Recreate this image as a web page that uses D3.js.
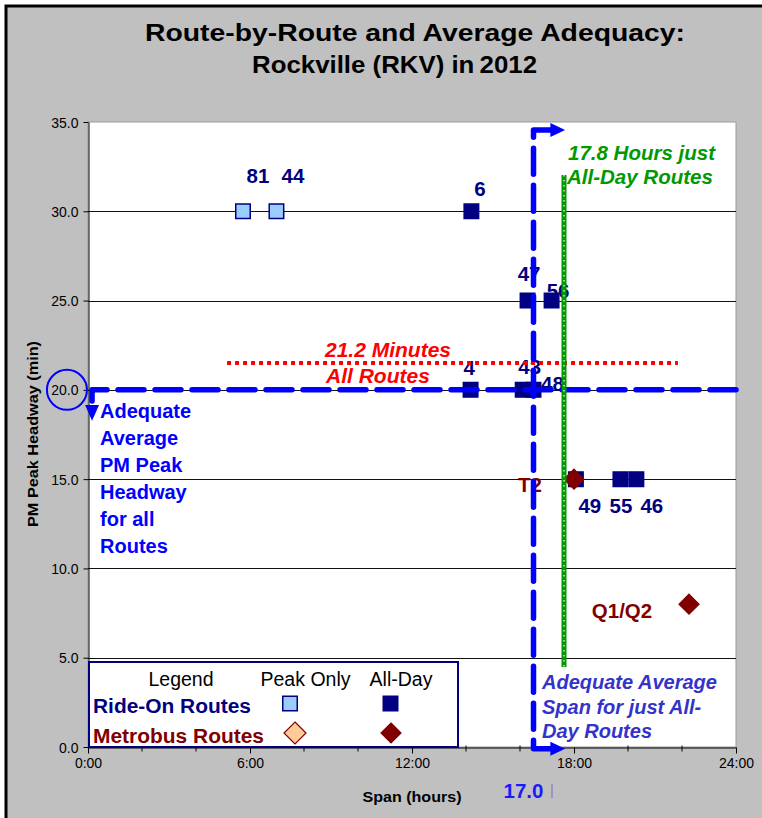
<!DOCTYPE html>
<html>
<head>
<meta charset="utf-8">
<script src="https://cdn.jsdelivr.net/npm/d3@7/dist/d3.min.js"></script>
<style>
  html, body { margin: 0; padding: 0; background: #ffffff; }
  svg { display: block; }
  text { font-family: "Liberation Sans", Arial, sans-serif; }
</style>
</head>
<body>
<script>
// ---------- DATA ----------
const routes      = ["81", "44", "6", "47", "56", "4", "43", "48", "49", "55", "46", "T2", "Q1/Q2"];
const spanHours   = [5.74, 6.98, 14.2, 16.28, 17.17, 14.17, 16.1, 16.5, 18.07, 19.72, 20.31, 18.0, 22.26];
const peakHeadway = [30, 30, 30, 25, 25, 20, 20, 20, 15, 15, 15, 15, 8];
const operators   = ["Ride-On","Ride-On","Ride-On","Ride-On","Ride-On","Ride-On","Ride-On","Ride-On","Ride-On","Ride-On","Ride-On","Metrobus","Metrobus"];
const serviceType = ["Peak Only","Peak Only","All-Day","All-Day","All-Day","All-Day","All-Day","All-Day","All-Day","All-Day","All-Day","All-Day","All-Day"];

const xTickValues = [0, 6, 12, 18, 24];
const xTickLabels = ["0:00", "6:00", "12:00", "18:00", "24:00"];
const xMinorTicks = [0, 2, 4, 6, 8, 10, 12, 14, 16, 18, 20, 22, 24];
const yTickValues = [0, 5, 10, 15, 20, 25, 30, 35];
const yTickLabels = ["0.0", "5.0", "10.0", "15.0", "20.0", "25.0", "30.0", "35.0"];

const titleLines = ["Route-by-Route and Average Adequacy:", "Rockville (RKV) in\u20092012"];

// Reference / average values (as drawn on the chart)
const adequateHeadway   = 20;          // horizontal blue dashed standard
const adequateSpanDrawn = 16.5;        // vertical blue dashed standard (labelled 17.0)
const adequateSpanLabel = "17.0";
const avgHeadwayDrawn   = 21.5;        // red dotted average (labelled 21.2)
const avgHeadwaySpan    = [5.15, 21.85];
const allDaySpanDrawn   = 17.63;       // green dotted average (labelled 17.8)
const allDayHeadwayRange = [4.48, 32.03];

// ---------- LAYOUT / STYLE ----------
const W = 762, H = 818;
const plot = { left: 88, right: 736, top: 122, bottom: 747 };
const FONT = '"Liberation Sans", Arial, sans-serif';
const NAVY = "#000080", DARKRED = "#800000", BLUE = "#0000ff";

// label offsets (pixels) per route
const labelOffset = {
  "81": [15, -28], "44": [16.5, -28], "6": [8.5, -15], "47": [1.5, -20],
  "56": [6.5, -3], "4": [-1.5, -15], "43": [7, -16], "48": [19, 1],
  "T2": [-44, 13], "49": [14, 34], "55": [0.5, 34], "46": [15.5, 34], "Q1/Q2": [-67, 14]
};

const x = d3.scaleLinear().domain([0, 24]).range([plot.left, plot.right]);
const y = d3.scaleLinear().domain([0, 35]).range([plot.bottom, plot.top]);

const svg = d3.select("body").append("svg").attr("width", W).attr("height", H);

// chart area background + border
svg.append("rect").attr("x", 0).attr("y", 0).attr("width", W).attr("height", H).attr("fill", "#ffffff");
svg.append("rect").attr("x", 6).attr("y", 6).attr("width", W + 20).attr("height", H + 20)
  .attr("fill", "#c0c0c0").attr("stroke", "#000").attr("stroke-width", 3);

// title
svg.append("text").attr("x", 145).attr("y", 41).attr("font-size", 24).attr("font-weight", "bold")
  .attr("textLength", 540).attr("lengthAdjust", "spacingAndGlyphs").text(titleLines[0]);
svg.append("text").attr("x", 252).attr("y", 73).attr("font-size", 24).attr("font-weight", "bold")
  .attr("textLength", 285).attr("lengthAdjust", "spacingAndGlyphs").text(titleLines[1]);

// plot area
svg.append("rect").attr("x", plot.left).attr("y", plot.top)
  .attr("width", plot.right - plot.left).attr("height", plot.bottom - plot.top)
  .attr("fill", "#fff").attr("stroke", "#9a9a9a").attr("stroke-width", 1);

// gridlines
svg.append("g").selectAll("line").data(yTickValues.filter(v => v > 0 && v < 35)).join("line")
  .attr("x1", plot.left).attr("x2", plot.right)
  .attr("y1", d => Math.round(y(d)) + 0.5).attr("y2", d => Math.round(y(d)) + 0.5)
  .attr("stroke", "#111").attr("stroke-width", 1);

// y axis
const yAxis = d3.axisLeft(y).tickValues(yTickValues).tickSize(5).tickSizeOuter(0)
  .tickFormat((d, i) => yTickLabels[i]);
const gy = svg.append("g").attr("transform", `translate(${plot.left + 0.5},0)`).call(yAxis);
gy.select(".domain").attr("stroke", "#000");
gy.selectAll(".tick line").attr("stroke", "#000");
gy.selectAll(".tick text").attr("font-family", FONT).attr("font-size", 14).attr("fill", "#000")
  .attr("x", -10).attr("dy", "0.36em");

// x axis
const xAxis = d3.axisBottom(x).tickValues(xTickValues).tickSize(6).tickSizeOuter(0)
  .tickFormat((d, i) => xTickLabels[i]);
const gx = svg.append("g").attr("transform", `translate(0,${plot.bottom + 0.5})`).call(xAxis);
gx.select(".domain").attr("stroke", "#000");
gx.selectAll(".tick line").attr("stroke", "#000");
gx.selectAll(".tick text").attr("font-family", FONT).attr("font-size", 14).attr("fill", "#000")
  .attr("y", 20).attr("dy", 0);
gx.append("g").selectAll("line").data(xMinorTicks.filter(v => !xTickValues.includes(v))).join("line")
  .attr("x1", d => x(d)).attr("x2", d => x(d)).attr("y1", -2).attr("y2", 4)
  .attr("stroke", "#000");

// axis titles
svg.append("text").attr("transform", "translate(38,434) rotate(-90)").attr("text-anchor", "middle")
  .attr("font-size", 15).attr("font-weight", "bold").attr("textLength", 186)
  .attr("lengthAdjust", "spacingAndGlyphs").text("PM Peak Headway (min)");
svg.append("text").attr("x", 412).attr("y", 802).attr("text-anchor", "middle")
  .attr("font-size", 15).attr("font-weight", "bold").attr("textLength", 99)
  .attr("lengthAdjust", "spacingAndGlyphs").text("Span (hours)");

// ---------- MARKERS ----------
const pts = routes.map((r, i) => ({ r, sx: spanHours[i], hw: peakHeadway[i], op: operators[i], st: serviceType[i] }));
function markerStyle(sel, op, st) {
  if (op === "Ride-On") {
    sel.attr("fill", st === "Peak Only" ? "#99ccff" : NAVY).attr("stroke", NAVY).attr("stroke-width", 1.5);
  } else {
    sel.attr("fill", st === "Peak Only" ? "#ffcc99" : DARKRED).attr("stroke", DARKRED).attr("stroke-width", 1.2);
  }
}
const squareSym = d3.symbol().type(d3.symbolSquare).size(210);
const diamondSym = (r) => `M0,${-r}L${r},0L0,${r}L${-r},0Z`;
const mg = svg.append("g");
pts.filter(p => p.op === "Ride-On").concat(pts.filter(p => p.op === "Metrobus")).forEach(p => {
  const path = mg.append("path")
    .attr("transform", `translate(${x(p.sx)},${y(p.hw)})`)
    .attr("d", p.op === "Ride-On" ? squareSym() : diamondSym(10));
  markerStyle(path, p.op, p.st);
});

// data labels
svg.append("g").selectAll("text").data(pts).join("text")
  .attr("x", d => x(d.sx) + labelOffset[d.r][0])
  .attr("y", d => y(d.hw) + labelOffset[d.r][1])
  .attr("text-anchor", "middle").attr("font-size", 20.5).attr("font-weight", "bold")
  .attr("fill", d => d.op === "Ride-On" ? NAVY : DARKRED)
  .text(d => d.r);

// ---------- ANNOTATIONS ----------
// red dotted average headway
svg.append("line")
  .attr("x1", x(avgHeadwaySpan[0])).attr("x2", x(avgHeadwaySpan[1]))
  .attr("y1", y(avgHeadwayDrawn)).attr("y2", y(avgHeadwayDrawn))
  .attr("stroke", "#ff0000").attr("stroke-width", 4).attr("stroke-dasharray", "4 4");
svg.append("text").attr("x", 325).attr("y", 357).attr("font-size", 21).attr("font-weight", "bold")
  .attr("font-style", "italic").attr("fill", "#ff0000").text("21.2 Minutes");
svg.append("text").attr("x", 326).attr("y", 383).attr("font-size", 21).attr("font-weight", "bold")
  .attr("font-style", "italic").attr("fill", "#ff0000").text("All Routes");

// blue horizontal dashed standard with down arrow at left
const leftX = x(0.15);
svg.append("path")
  .attr("d", `M${x(24)},${y(adequateHeadway)}L${leftX},${y(adequateHeadway)}L${leftX},${y(19.05)}`)
  .attr("fill", "none").attr("stroke", BLUE).attr("stroke-width", 5.5)
  .attr("stroke-dasharray", "26 11").attr("stroke-linecap", "round").attr("stroke-linejoin", "round");
svg.append("path")
  .attr("d", `M${leftX - 7},${y(19.15)}L${leftX + 7},${y(19.15)}L${leftX},${y(18.27)}Z`)
  .attr("fill", BLUE);
// circle around 20.0 tick label
svg.append("circle").attr("cx", x(-0.78)).attr("cy", y(adequateHeadway)).attr("r", 20)
  .attr("fill", "none").attr("stroke", BLUE).attr("stroke-width", 2);
// left annotation text
["Adequate", "Average", "PM Peak", "Headway", "for all", "Routes"].forEach((t, i) => {
  svg.append("text").attr("x", 100).attr("y", 418 + i * 27).attr("font-size", 20)
    .attr("font-weight", "bold").attr("fill", BLUE).text(t);
});

// green dotted all-day average span
svg.append("line")
  .attr("x1", x(allDaySpanDrawn)).attr("x2", x(allDaySpanDrawn))
  .attr("y1", y(allDayHeadwayRange[1])).attr("y2", y(allDayHeadwayRange[0]))
  .attr("stroke", "#009900").attr("stroke-width", 5);
svg.append("line")
  .attr("x1", x(allDaySpanDrawn)).attr("x2", x(allDaySpanDrawn))
  .attr("y1", y(allDayHeadwayRange[1])).attr("y2", y(allDayHeadwayRange[0]))
  .attr("stroke", "#ffffff").attr("stroke-opacity", 0.85).attr("stroke-width", 1.4)
  .attr("stroke-dasharray", "1.5 3.5");
svg.append("text").attr("x", 568).attr("y", 160).attr("font-size", 20.5).attr("font-weight", "bold")
  .attr("font-style", "italic").attr("fill", "#009900").text("17.8 Hours just");
svg.append("text").attr("x", 567).attr("y", 184).attr("font-size", 20.5).attr("font-weight", "bold")
  .attr("font-style", "italic").attr("fill", "#009900").text("All-Day Routes");

// blue vertical dashed standard span with right arrows at both ends
const vx = x(adequateSpanDrawn), topY = y(34.55), botY = y(-0.1);
const arrowBase = x(17.2), arrowTip = x(17.67);
svg.append("path")
  .attr("d", `M${arrowBase},${topY}L${vx},${topY}L${vx},${botY}L${arrowBase},${botY}`)
  .attr("fill", "none").attr("stroke", BLUE).attr("stroke-width", 5.5)
  .attr("stroke-dasharray", "26 11").attr("stroke-linecap", "round").attr("stroke-linejoin", "round");
[topY, botY].forEach(yy => {
  svg.append("path").attr("d", `M${arrowBase - 2},${yy - 7}L${arrowTip},${yy}L${arrowBase - 2},${yy + 7}Z`)
    .attr("fill", BLUE);
});
svg.append("text").attr("x", vx - 10).attr("y", 798).attr("text-anchor", "middle")
  .attr("font-size", 20.5).attr("font-weight", "bold").attr("fill", "#1a1aff").text(adequateSpanLabel);
svg.append("line").attr("x1", vx + 18.5).attr("x2", vx + 18.5).attr("y1", 784).attr("y2", 798)
  .attr("stroke", "#6b6bd6").attr("stroke-width", 1);

["Adequate Average", "Span for just All-", "Day Routes"].forEach((t, i) => {
  svg.append("text").attr("x", 542).attr("y", 689 + i * 24.5).attr("font-size", 20)
    .attr("font-weight", "bold").attr("font-style", "italic").attr("fill", "#3333cc").text(t);
});

// ---------- LEGEND ----------
const lg = svg.append("g");
lg.append("rect").attr("x", 89).attr("y", 662).attr("width", 369).attr("height", 85)
  .attr("fill", "#fff").attr("stroke", NAVY).attr("stroke-width", 2);
lg.append("text").attr("x", 181).attr("y", 686).attr("text-anchor", "middle").attr("font-size", 19.5).text("Legend");
lg.append("text").attr("x", 305.5).attr("y", 686).attr("text-anchor", "middle").attr("font-size", 19.5).text("Peak Only");
lg.append("text").attr("x", 401).attr("y", 686).attr("text-anchor", "middle").attr("font-size", 19.5).text("All-Day");
lg.append("text").attr("x", 93).attr("y", 713).attr("font-size", 20).attr("font-weight", "bold")
  .attr("fill", NAVY).attr("textLength", 158).attr("lengthAdjust", "spacingAndGlyphs").text("Ride-On Routes");
lg.append("text").attr("x", 93).attr("y", 743).attr("font-size", 20).attr("font-weight", "bold")
  .attr("fill", DARKRED).attr("textLength", 171).attr("lengthAdjust", "spacingAndGlyphs").text("Metrobus Routes");
markerStyle(lg.append("path").attr("transform", "translate(290,703.5)").attr("d", squareSym()), "Ride-On", "Peak Only");
markerStyle(lg.append("path").attr("transform", "translate(390.5,703.5)").attr("d", squareSym()), "Ride-On", "All-Day");
markerStyle(lg.append("path").attr("transform", "translate(295,733)").attr("d", diamondSym(11)), "Metrobus", "Peak Only");
markerStyle(lg.append("path").attr("transform", "translate(391,733)").attr("d", diamondSym(10)), "Metrobus", "All-Day");
</script>
</body>
</html>
